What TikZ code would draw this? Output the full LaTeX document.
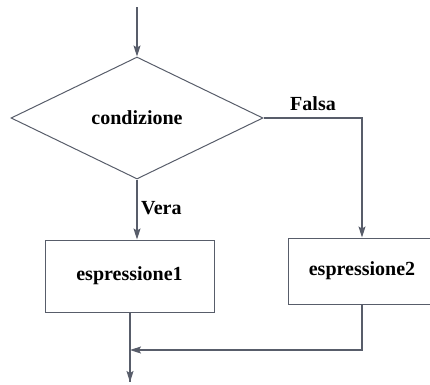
\documentclass[tikz,border=0pt]{standalone}
\usepackage{fontspec}
\setmainfont{Liberation Serif}
\usetikzlibrary{shapes.geometric,arrows.meta}
\definecolor{linegray}{HTML}{585D6A}
\begin{document}
\begin{tikzpicture}[x=1pt,y=-1pt,
  flow/.style={draw=linegray,line width=1.1pt},
  arr/.style={flow,-{Stealth[length=11pt,width=7pt,inset=2pt]}},
  txt/.style={font=\fontsize{20}{22}\bfseries\selectfont},
  decision/.style={txt,draw=linegray,line width=1pt,diamond,aspect=2,
    minimum width=252pt,minimum height=122pt,inner sep=0pt},
  procbox/.style={txt,draw=linegray,line width=1pt,rectangle,inner sep=0pt},
  lbl/.style={txt,inner sep=0pt}]
\useasboundingbox (0,0) rectangle (430,384);
\clip (0,0) rectangle (430,384);

\coordinate (start) at (137,7);
\node[decision] (dec) at (137,118) {condizione};
\node[procbox,minimum width=169pt,minimum height=72pt] (e1) at (129.5,276) {espressione1};
\node[procbox,minimum width=148pt,minimum height=66pt] (e2) at (362,271) {espressione2};
\coordinate (fcorner) at (362,118);
\coordinate (join) at (130,350);
\coordinate (stop) at (130,382);

% entry
\draw[arr] (start) -- (dec.north);
% true branch
\draw[arr] (dec.south) -- (dec.south |- e1.north);
\node[lbl,anchor=west] (vera) at (141,208) {Vera};
% false branch
\draw[arr] (dec.east) -- (fcorner) -- (e2.north);
\node[lbl] (falsa) at (313,104) {Falsa};
% merge
\draw[flow] (e1.south -| join) -- (stop);
\draw[arr] (e2.south) |- (join);
\draw[arr] (join) -- (stop);
\end{tikzpicture}
\end{document}
